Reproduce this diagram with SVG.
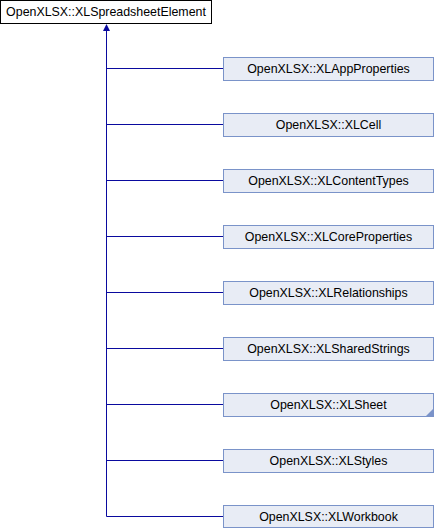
<svg xmlns="http://www.w3.org/2000/svg" width="436" height="528" viewBox="0 0 436 528">
<style>
.n rect{fill:#e8ecf5;stroke:#7a93c9;stroke-width:1}
.top rect{fill:#ffffff;stroke:#000000;stroke-width:1}
text{font-family:"Liberation Sans",Arial,sans-serif;font-size:12.4px;fill:#000;text-anchor:middle}
.e{stroke:#0a0a9e;stroke-width:1;fill:none}
</style>
<rect width="436" height="528" fill="#fff"/>
<g id="connectors">
<path class="e" d="M106.5,29 V516.5"/>
<path class="e" d="M106.5,68.5 H223 M106.5,124.5 H223 M106.5,180.5 H223 M106.5,236.5 H223 M106.5,292.5 H223 M106.5,348.5 H223 M106.5,404.5 H223 M106.5,460.5 H223 M106.5,516.5 H223"/>
<polygon points="106.5,24 103,31 110,31" fill="#0a0a9e"/>
</g>
<g id="XLSpreadsheetElement" class="top"><rect x="0.5" y="0.5" width="211" height="23"/><text x="106" y="16">OpenXLSX::XLSpreadsheetElement</text></g>
<g id="XLAppProperties" class="n"><rect x="223.5" y="57.5" width="210" height="23"/><text x="328.5" y="73">OpenXLSX::XLAppProperties</text></g>
<g id="XLCell" class="n"><rect x="223.5" y="113.5" width="210" height="23"/><text x="328.5" y="129">OpenXLSX::XLCell</text></g>
<g id="XLContentTypes" class="n"><rect x="223.5" y="169.5" width="210" height="23"/><text x="328.5" y="185">OpenXLSX::XLContentTypes</text></g>
<g id="XLCoreProperties" class="n"><rect x="223.5" y="225.5" width="210" height="23"/><text x="328.5" y="241">OpenXLSX::XLCoreProperties</text></g>
<g id="XLRelationships" class="n"><rect x="223.5" y="281.5" width="210" height="23"/><text x="328.5" y="297">OpenXLSX::XLRelationships</text></g>
<g id="XLSharedStrings" class="n"><rect x="223.5" y="337.5" width="210" height="23"/><text x="328.5" y="353">OpenXLSX::XLSharedStrings</text></g>
<g id="XLSheet" class="n"><rect x="223.5" y="393.5" width="210" height="23"/><polygon points="433,409 433,416 426,416" fill="#7a93c9"/><text x="328.5" y="409">OpenXLSX::XLSheet</text></g>
<g id="XLStyles" class="n"><rect x="223.5" y="449.5" width="210" height="23"/><text x="328.5" y="465">OpenXLSX::XLStyles</text></g>
<g id="XLWorkbook" class="n"><rect x="223.5" y="505.5" width="210" height="22"/><text x="328.5" y="521">OpenXLSX::XLWorkbook</text></g>
</svg>
